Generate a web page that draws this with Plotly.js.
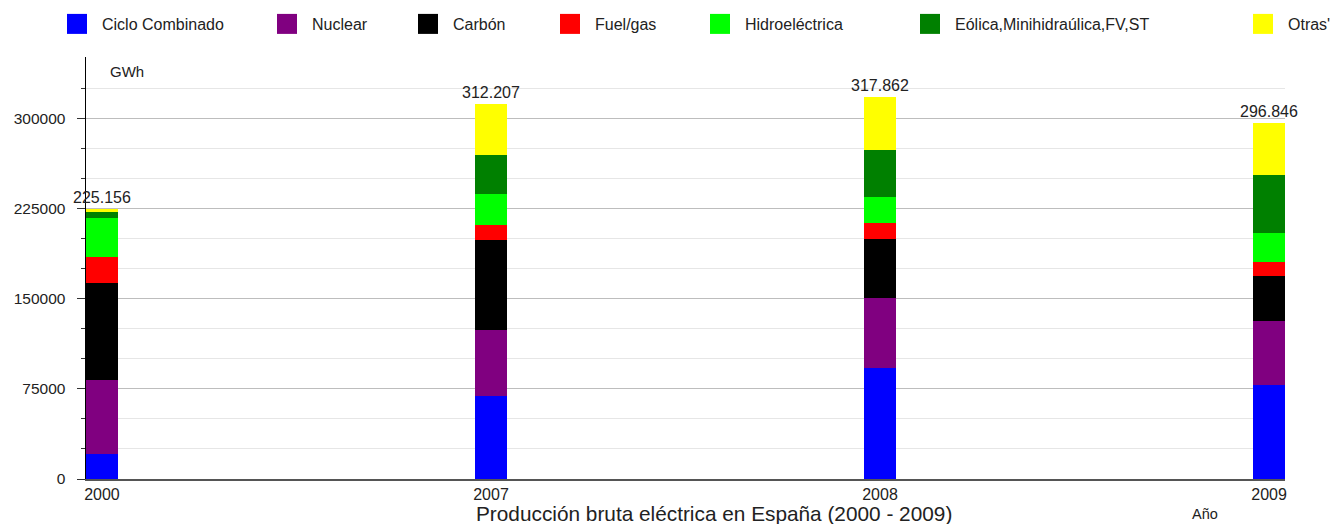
<!DOCTYPE html>
<html><head><meta charset="utf-8">
<script src="https://cdn.plot.ly/plotly-3.0.1.min.js"></script>
<style>html,body{margin:0;padding:0;background:#fff}#chart{width:1342px;height:524px}</style>
</head><body><div id="chart"></div>
<script>
// ---- data (GWh) ----
const years = ['2000', '2007', '2008', '2009'];
const cicloCombinado = [20600, 69500, 92300, 77900];
const nuclear = [62000, 54300, 58400, 53600];
const carbon = [80500, 75000, 48900, 37500];
const fuelGas = [22000, 13000, 13300, 11700];
const hidroelectrica = [32200, 25800, 21900, 24500];
const eolica = [5200, 32500, 39200, 48000];
const otras = [2650, 42100, 43860, 43650];
const totals = [225156, 312207, 317862, 296846];
const totalLabels = ['225.156', '312.207', '317.862', '296.846'];
const seriesNames = ['Ciclo Combinado', 'Nuclear', 'Carbón', 'Fuel/gas', 'Hidroeléctrica', 'Eólica,Minihidraúlica,FV,ST', "Otras'"];
const seriesValues = [cicloCombinado, nuclear, carbon, fuelGas, hidroelectrica, eolica, otras];

// ---- style ----
const colors = ['#0000ff', '#800080', '#000000', '#ff0000', '#00ff00', '#008000', '#ffff00'];
const legendTextX = [102, 312, 453, 595, 745, 955, 1288];
const FONT = 'Liberation Sans, Arial, sans-serif';
const TXT = '#222';
const W = 1342, H = 524;

const traces = seriesNames.map((n, i) => ({
  type: 'bar', name: n, x: years, y: seriesValues[i],
  marker: {color: colors[i], line: {width: 0}},
  legend: i === 0 ? 'legend' : 'legend' + (i + 1),
  hoverinfo: 'skip'
}));

const annotations = years.map((yr, i) => ({
  x: i, y: totals[i], xref: 'x', yref: 'y', text: totalLabels[i],
  showarrow: false, yanchor: 'bottom', yshift: 1,
  font: {family: FONT, size: 16, color: TXT}
}));
annotations.push({xref: 'paper', yref: 'paper', x: (108 - 86) / 1199, y: (479 - 71) / 422,
  xanchor: 'left', yanchor: 'middle', text: 'GWh', showarrow: false,
  font: {family: FONT, size: 15, color: TXT}});
annotations.push({xref: 'paper', yref: 'paper', x: (714 - 86) / 1199, y: -(513 - 479) / 422,
  xanchor: 'center', yanchor: 'middle', text: 'Producción bruta eléctrica en España (2000 - 2009)', showarrow: false,
  font: {family: FONT, size: 20.8, color: TXT}});
annotations.push({xref: 'paper', yref: 'paper', x: (1205 - 86) / 1199, y: -(514 - 479) / 422,
  xanchor: 'center', yanchor: 'middle', text: 'Año', showarrow: false,
  font: {family: FONT, size: 14.5, color: TXT}});

const layout = {
  width: W, height: H,
  paper_bgcolor: '#fff', plot_bgcolor: '#fff',
  margin: {l: 86, r: 57, t: 57, b: 45, pad: 0},
  barmode: 'stack', bargap: 0.918,
  font: {family: FONT, color: TXT},
  xaxis: {
    type: 'category', range: [-0.041, 3.041], fixedrange: true,
    showline: true, linecolor: '#555', linewidth: 1.5,
    showgrid: false, zeroline: false, ticks: '',
    tickfont: {family: FONT, size: 16, color: TXT}
  },
  yaxis: {
    range: [0, 351500], fixedrange: true,
    tickmode: 'array', tickvals: [0, 75000, 150000, 225000, 300000], tickformat: 'd',
    showgrid: true, gridcolor: '#bdbdbd', gridwidth: 1,
    ticks: 'outside', ticklen: 8, tickcolor: '#333', tickwidth: 1,
    showline: true, linecolor: '#000', linewidth: 1.5, zeroline: false,
    ticklabelstandoff: 8,
    tickfont: {family: FONT, size: 15.5, color: TXT},
    minor: {tickmode: 'array', tickvals: [25000, 50000, 100000, 125000, 175000, 200000, 250000, 275000, 325000],
      ticks: 'outside', ticklen: 4, tickcolor: '#333', showgrid: true, gridcolor: '#e6e6e6', gridwidth: 1}
  },
  annotations: annotations,
  showlegend: true
};
legendTextX.forEach((tx, i) => {
  const key = i === 0 ? 'legend' : 'legend' + (i + 1);
  layout[key] = {
    xref: 'container', yref: 'container', x: (tx - 40) / W, y: 1 - 24 / H,
    xanchor: 'left', yanchor: 'middle', orientation: 'h',
    bgcolor: 'rgba(0,0,0,0)', borderwidth: 0,
    font: {family: FONT, size: 16, color: TXT}
  };
});

Plotly.newPlot('chart', traces, layout, {staticPlot: true, displayModeBar: false}).then(gd => {
  gd.querySelectorAll('.legendpoints path').forEach(p => p.setAttribute('d', 'M5,10H-15V-10H5Z'));
});
</script>
</body></html>
